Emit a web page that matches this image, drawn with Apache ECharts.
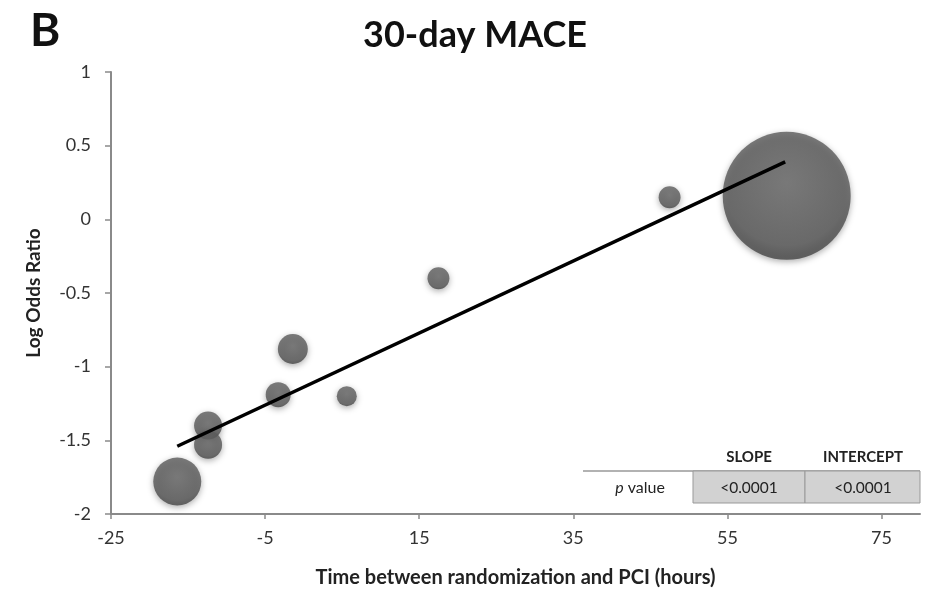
<!DOCTYPE html>
<html><head><meta charset="utf-8">
<script src="https://cdn.jsdelivr.net/npm/echarts@6/dist/echarts.min.js"></script>
<style>html,body{margin:0;padding:0;background:#fff}#c{width:926px;height:593px}</style>
</head><body><div id="c"></div>
<script>
// Study-level data (hours, log odds ratio, relative weight)
var timeHours = [62.7, 47.5, 17.5, -1.4, -3.3, 5.6, -12.4, -12.4, -16.4];
var logOR     = [0.16, 0.15, -0.40, -0.88, -1.19, -1.20, -1.40, -1.53, -1.78];
var weights   = [1024, 30, 30, 56, 39, 25, 49, 49, 144];
// Meta-regression fit line endpoints
var fitX = [-16.4, 62.5];
var fitY = [-1.54, 0.39];
var xTicks = [-25, -5, 15, 35, 55, 75];
var tableHeader = ['SLOPE', 'INTERCEPT'];
var tableRowLabel = 'p value';
var tableValues = ['<0.0001', '<0.0001'];

var font = 'Lato, "Open Sans", sans-serif';
var chart = echarts.init(document.getElementById('c'));
var pts = timeHours.map(function (x, i) { return [x, logOR[i], weights[i]]; });
var fit = fitX.map(function (x, i) { return [x, fitY[i]]; });

var bubbleColor = {
  type: 'radial', x: 0.5, y: 0.4, r: 0.65,
  colorStops: [{offset: 0, color: '#6b6b6b'}, {offset: 0.75, color: '#585858'}, {offset: 1, color: '#3c3c3c'}]
};

chart.setOption({
  animation: false,
  backgroundColor: '#fff',
  title: {
    text: '30-day MACE', left: 470, top: 12, textAlign: 'center',
    textStyle: {fontFamily: font, fontWeight: 'bold', fontSize: 36, color: '#111'}
  },
  grid: {left: 111, top: 72, right: 6, bottom: 77},
  xAxis: {
    type: 'value', min: -25, max: 80,
    name: 'Time between randomization and PCI (hours)', nameLocation: 'middle', nameGap: 54,
    nameTextStyle: {fontFamily: font, fontWeight: 'bold', fontSize: 20, color: '#222'},
    axisLine: {onZero: false, lineStyle: {color: '#8a8a8a', width: 2}},
    axisTick: {show: true, customValues: xTicks, length: 5, inside: false, lineStyle: {color: '#8a8a8a', width: 1.5}},
    axisLabel: {customValues: xTicks, fontFamily: font, fontSize: 18, color: '#333', margin: 15},
    splitLine: {show: false}
  },
  yAxis: {
    type: 'value', min: -2, max: 1, interval: 0.5,
    name: 'Log Odds Ratio', nameLocation: 'middle', nameGap: 68,
    nameTextStyle: {fontFamily: font, fontWeight: 'bold', fontSize: 19, color: '#222'},
    axisLine: {show: true, onZero: false, lineStyle: {color: '#8a8a8a', width: 2}},
    axisTick: {show: true, length: 6, lineStyle: {color: '#8a8a8a', width: 1.5}},
    axisLabel: {fontFamily: font, fontSize: 18, color: '#333', margin: 20},
    splitLine: {show: false}
  },
  series: [
    {
      type: 'scatter', data: pts, z: 2,
      symbolSize: function (v) { return 4 * Math.sqrt(v[2]); },
      itemStyle: {color: bubbleColor, shadowBlur: 6, shadowColor: 'rgba(0,0,0,0.4)', shadowOffsetY: 2}
    },
    {
      type: 'line', data: fit, z: 3, symbol: 'none',
      lineStyle: {color: '#000', width: 3.5}
    }
  ],
  graphic: [
    {type: 'text', left: 30, top: 8, style: {text: 'B', font: 'bold 46px ' + font, fill: '#111'}},
    {type: 'line', shape: {x1: 583, y1: 471, x2: 920, y2: 471}, style: {stroke: '#999', lineWidth: 1.5}},
    {type: 'rect', shape: {x: 693, y: 471, width: 112, height: 32}, style: {fill: '#d2d2d2', stroke: '#999', lineWidth: 1}},
    {type: 'rect', shape: {x: 805, y: 471, width: 115, height: 32}, style: {fill: '#d2d2d2', stroke: '#999', lineWidth: 1}},
    {type: 'text', x: 749, y: 457, style: {text: tableHeader[0], font: 'bold 15px ' + font, fill: '#222', align: 'center', verticalAlign: 'middle'}},
    {type: 'text', x: 863, y: 457, style: {text: tableHeader[1], font: 'bold 15px ' + font, fill: '#222', align: 'center', verticalAlign: 'middle'}},
    {type: 'text', x: 640, y: 488, style: {
      rich: {i: {fontStyle: 'italic', fontFamily: font, fontSize: 16, fill: '#222'}, n: {fontFamily: font, fontSize: 16, fill: '#222'}},
      text: '{i|' + tableRowLabel.split(' ')[0] + '}{n| ' + tableRowLabel.split(' ').slice(1).join(' ') + '}',
      align: 'center', verticalAlign: 'middle'}},
    {type: 'text', x: 749, y: 488, style: {text: tableValues[0], font: '15.5px ' + font, fill: '#222', align: 'center', verticalAlign: 'middle'}},
    {type: 'text', x: 863, y: 488, style: {text: tableValues[1], font: '15.5px ' + font, fill: '#222', align: 'center', verticalAlign: 'middle'}}
  ]
});
</script></body></html>
